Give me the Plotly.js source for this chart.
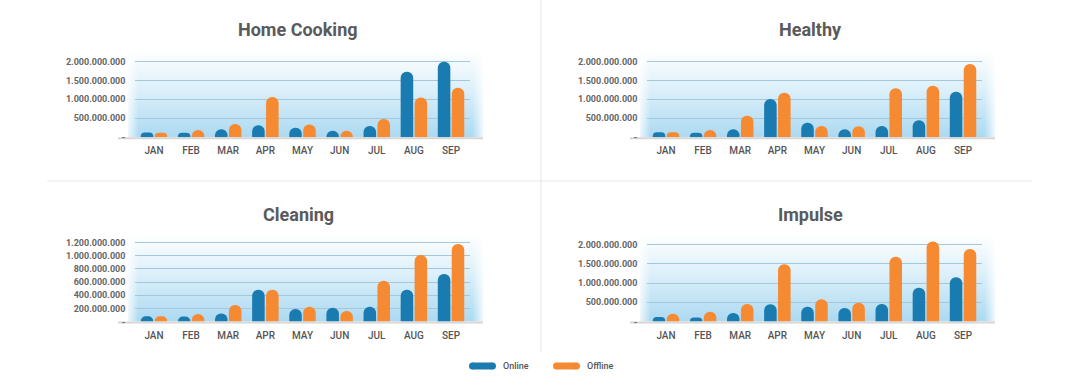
<!DOCTYPE html>
<html>
<head>
<meta charset="utf-8">
<script src="https://cdn.plot.ly/plotly-3.0.1.min.js"></script>
<style>html,body{margin:0;padding:0;background:#fff;}#chart{width:1080px;height:378px;}</style>
</head>
<body>
<div id="chart"></div>
<script>
// ---- data ----
const months = ['JAN','FEB','MAR','APR','MAY','JUN','JUL','AUG','SEP'];
const seriesNames = ['Online','Offline'];

const homeCookingOnline  = [125e6, 120e6, 210e6, 315e6, 250e6, 175e6, 300e6, 1725e6, 1990e6];
const homeCookingOffline = [120e6, 190e6, 350e6, 1060e6, 340e6, 175e6, 480e6, 1050e6, 1305e6];

const healthyOnline  = [130e6, 120e6, 210e6, 1010e6, 385e6, 210e6, 300e6, 450e6, 1200e6];
const healthyOffline = [130e6, 190e6, 570e6, 1175e6, 300e6, 290e6, 1290e6, 1360e6, 1930e6];

const cleaningOnline  = [80e6, 77e6, 123e6, 482e6, 190e6, 210e6, 225e6, 482e6, 723e6];
const cleaningOffline = [80e6, 113e6, 250e6, 482e6, 225e6, 160e6, 620e6, 1015e6, 1180e6];

const impulseOnline  = [114e6, 105e6, 220e6, 450e6, 385e6, 350e6, 455e6, 877e6, 1150e6];
const impulseOffline = [200e6, 255e6, 455e6, 1490e6, 580e6, 490e6, 1685e6, 2080e6, 1885e6];

const tickVals2B  = [0, 500e6, 1000e6, 1500e6, 2000e6];
const tickText2B  = ['-', '500.000.000', '1.000.000.000', '1.500.000.000', '2.000.000.000'];
const tickVals12  = [0, 200e6, 400e6, 600e6, 800e6, 1000e6, 1200e6];
const tickText12  = ['-', '200.000.000', '400.000.000', '600.000.000', '800.000.000', '1.000.000.000', '1.200.000.000'];

const titles = ['Home Cooking', 'Healthy', 'Cleaning', 'Impulse'];

// ---- layout helpers ----
const W = 1080, H = 378;
const px = v => v / W;
const py = v => 1 - v / H;

const FONT = 'Roboto, "DejaVu Sans", sans-serif';
const BLUE = '#1a7bb1';
const ORANGE = '#f68a33';

const panels = [
  {title: titles[0], on: homeCookingOnline, off: homeCookingOffline, tv: tickVals2B, tt: tickText2B, top: 2.3e9,  dx: 0,   dy: 0,   ax: ''},
  {title: titles[1], on: healthyOnline,     off: healthyOffline,     tv: tickVals2B, tt: tickText2B, top: 2.3e9,  dx: 512, dy: 0,   ax: '2'},
  {title: titles[2], on: cleaningOnline,    off: cleaningOffline,    tv: tickVals12, tt: tickText12, top: 1.33e9, dx: 0,   dy: 184.2, ax: '3'},
  {title: titles[3], on: impulseOnline,     off: impulseOffline,     tv: tickVals2B, tt: tickText2B, top: 2.27e9, dx: 512, dy: 184.2, ax: '4'}
];

const bgSvg = '<svg xmlns="http://www.w3.org/2000/svg" width="200" height="100" viewBox="0 0 200 100" preserveAspectRatio="none">' +
  '<defs><linearGradient id="g" x1="0" y1="0" x2="0" y2="1">' +
  '<stop offset="0" stop-color="#ffffff"/><stop offset="0.45" stop-color="#dcf0fa"/><stop offset="1" stop-color="#acd9f1"/></linearGradient>' +
  '<linearGradient id="h" x1="0" y1="0" x2="1" y2="0">' +
  '<stop offset="0" stop-color="#ffffff" stop-opacity="0.8"/><stop offset="0.03" stop-color="#ffffff" stop-opacity="0"/>' +
  '<stop offset="0.97" stop-color="#ffffff" stop-opacity="0"/><stop offset="1" stop-color="#ffffff" stop-opacity="0.8"/></linearGradient></defs>' +
  '<rect x="0" y="0" width="200" height="100" fill="url(#g)"/><rect x="0" y="0" width="200" height="100" fill="url(#h)"/></svg>';
const bgUri = 'data:image/svg+xml;charset=utf-8,' + encodeURIComponent(bgSvg);

const traces = [];
const layout = {
  width: W, height: H,
  margin: {l: 0, r: 0, t: 0, b: 0},
  paper_bgcolor: '#ffffff',
  plot_bgcolor: 'rgba(0,0,0,0)',
  showlegend: false,
  barmode: 'group',
  bargap: 0.25,
  bargroupgap: 0.1,
  font: {family: FONT, color: '#5a5a5a'},
  annotations: [],
  shapes: [],
  images: []
};

panels.forEach((p, i) => {
  const xa = 'x' + p.ax, ya = 'y' + p.ax;
  const plotL = 135.4 + p.dx, plotR = 469.6 + p.dx;
  const plotT = 50 + p.dy, plotB = 137.3 + p.dy;
  traces.push({
    type: 'bar', name: seriesNames[0], x: months, y: p.on, xaxis: xa, yaxis: ya,
    marker: {color: BLUE, cornerradius: '50%', line: {width: 0}}, hoverinfo: 'skip'
  });
  traces.push({
    type: 'bar', name: seriesNames[1], x: months, y: p.off, xaxis: xa, yaxis: ya,
    marker: {color: ORANGE, cornerradius: '50%', line: {width: 0}}, hoverinfo: 'skip'
  });
  const xKey = 'xaxis' + p.ax, yKey = 'yaxis' + p.ax;
  layout[xKey] = {
    domain: [px(plotL), px(plotR)], anchor: ya, type: 'category',
    categoryorder: 'array', categoryarray: months,
    range: [-0.5, 8.5], showgrid: false, zeroline: false, showline: false,
    ticks: '', ticklabelstandoff: 6,
    tickfont: {family: FONT, size: 10, color: '#555555', weight: 500},
    fixedrange: true
  };
  layout[yKey] = {
    domain: [py(plotB), py(plotT)], anchor: xa,
    range: [0, p.top], tickmode: 'array', tickvals: p.tv, ticktext: p.tt,
    showgrid: true, gridcolor: '#a3c8dc', gridwidth: 1, zeroline: false, showline: false,
    ticks: '', ticklabelstandoff: 9,
    tickfont: {family: FONT, size: 9, color: '#666666', weight: 700},
    fixedrange: true
  };
  layout.images.push({
    source: bgUri, xref: 'paper', yref: 'paper',
    x: px(128 + p.dx), y: py(plotT), sizex: px(483 + p.dx) - px(128 + p.dx), sizey: py(plotT) - py(plotB),
    xanchor: 'left', yanchor: 'top', sizing: 'stretch', layer: 'below'
  });
  layout.shapes.push({
    type: 'line', xref: 'paper', yref: 'paper',
    x0: px(118 + p.dx), x1: px(483 + p.dx), y0: py(plotB + 1), y1: py(plotB + 1),
    line: {color: '#d6d6d6', width: 2}, layer: 'below'
  });
  layout.annotations.push({
    text: p.title, xref: 'paper', yref: 'paper',
    x: px(298 + p.dx), y: py(30 + p.dy), xanchor: 'center', yanchor: 'middle',
    showarrow: false, font: {family: FONT, size: 18, color: '#5a5a5a', weight: 700}
  });
});

// separators
layout.shapes.push({type: 'line', xref: 'paper', yref: 'paper', x0: px(541), x1: px(541), y0: py(0), y1: py(352), line: {color: '#e6e6e6', width: 1}});
layout.shapes.push({type: 'line', xref: 'paper', yref: 'paper', x0: px(47), x1: px(1032), y0: py(181), y1: py(181), line: {color: '#e6e6e6', width: 1}});

// legend (pills + labels)
const legendItems = [{name: seriesNames[0], color: BLUE, x: 469}, {name: seriesNames[1], color: ORANGE, x: 553}];
legendItems.forEach(it => {
  const yc = 366, h = 7, w = 27, r = h / 2;
  layout.shapes.push({type: 'rect', xref: 'paper', yref: 'paper', x0: px(it.x + r), x1: px(it.x + w - r), y0: py(yc + r), y1: py(yc - r), fillcolor: it.color, line: {width: 0}});
  layout.shapes.push({type: 'circle', xref: 'paper', yref: 'paper', x0: px(it.x), x1: px(it.x + h), y0: py(yc + r), y1: py(yc - r), fillcolor: it.color, line: {width: 0}});
  layout.shapes.push({type: 'circle', xref: 'paper', yref: 'paper', x0: px(it.x + w - h), x1: px(it.x + w), y0: py(yc + r), y1: py(yc - r), fillcolor: it.color, line: {width: 0}});
  layout.annotations.push({text: it.name, xref: 'paper', yref: 'paper', x: px(it.x + w + 5), y: py(yc), xanchor: 'left', yanchor: 'middle', showarrow: false, font: {family: FONT, size: 9, color: '#555555', weight: 500}});
});

Plotly.newPlot('chart', traces, layout, {displayModeBar: false, staticPlot: true});
</script>
</body>
</html>
